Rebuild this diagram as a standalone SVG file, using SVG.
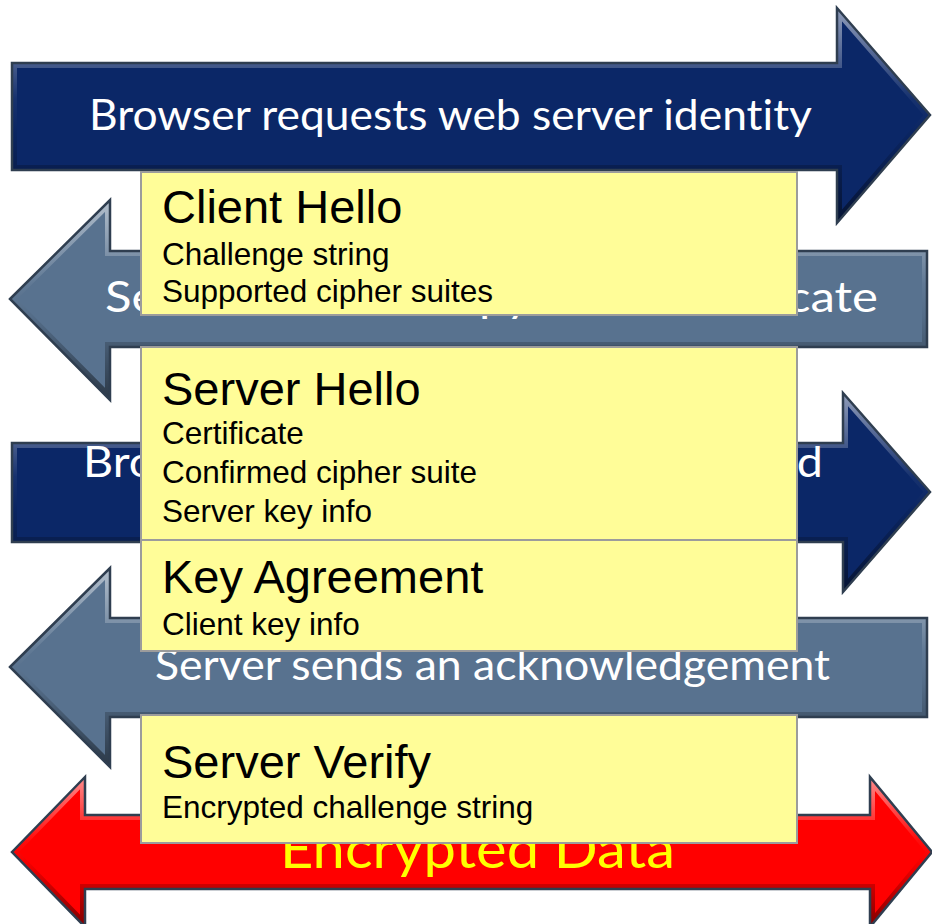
<svg xmlns="http://www.w3.org/2000/svg" xmlns:xlink="http://www.w3.org/1999/xlink" width="932" height="924" viewBox="0 0 932 924">
  <style>
    .outline { fill: none; stroke: #2F3E50; stroke-width: 2.5; stroke-linejoin: miter; }
    .bevel { fill: none; stroke: url(#bevelG); stroke-width: 10; }
    .navy { fill: #0B2767; }
    .slate { fill: #58728F; }
    .red { fill: #FF0000; }
    .atext { font-family: Lato, "Open Sans", sans-serif; font-size: 42px; fill: #FFFFFF; font-variant-ligatures: none; }
    .ytext { font-family: Lato, "Open Sans", sans-serif; font-size: 54px; fill: #FFFF00; font-variant-ligatures: none; }
    .box { fill: #FFFD98; stroke: #9C9C9C; stroke-width: 2; }
    .title { font-family: "Liberation Sans", Arial, sans-serif; font-size: 47px; fill: #000000; }
    .item { font-family: "Liberation Sans", Arial, sans-serif; font-size: 31.5px; fill: #000000; }
  </style>
  <defs>
    <linearGradient id="bevelG" x1="0" y1="0" x2="0" y2="1">
      <stop offset="0" stop-color="#FFFFFF" stop-opacity="0.55"/>
      <stop offset="0.42" stop-color="#FFFFFF" stop-opacity="0.05"/>
      <stop offset="0.58" stop-color="#000000" stop-opacity="0.05"/>
      <stop offset="1" stop-color="#000000" stop-opacity="0.5"/>
    </linearGradient>
    <polygon id="p1" points="12,63 837,63 837,8 930,115 837,223 837,170 12,170"/>
    <polygon id="p2" points="10,299 110,200 110,251 927,251 927,347 110,347 110,400"/>
    <polygon id="p3" points="12,443 843,443 843,393 930,492 843,592 843,542 12,542"/>
    <polygon id="p4" points="10,667 110,568 110,618 927,618 927,717 110,717 110,767"/>
    <polygon id="p5" points="12,852 85,777 85,815 870,815 870,777 932,852 870,927 870,889 85,889 85,927"/>
    <clipPath id="c1"><use xlink:href="#p1"/></clipPath>
    <clipPath id="c2"><use xlink:href="#p2"/></clipPath>
    <clipPath id="c3"><use xlink:href="#p3"/></clipPath>
    <clipPath id="c4"><use xlink:href="#p4"/></clipPath>
    <clipPath id="c5"><use xlink:href="#p5"/></clipPath>
  </defs>
  <rect width="932" height="924" fill="#FFFFFF"/>

  <g id="connectors">
    <g id="arrow1">
      <use xlink:href="#p1" class="navy"/>
      <use xlink:href="#p1" class="bevel" clip-path="url(#c1)"/>
      <use xlink:href="#p1" class="outline"/>
      <text class="atext" x="89" y="130" textLength="723" lengthAdjust="spacingAndGlyphs">Browser requests web server identity</text>
    </g>
    <g id="arrow2">
      <use xlink:href="#p2" class="slate"/>
      <use xlink:href="#p2" class="bevel" clip-path="url(#c2)"/>
      <use xlink:href="#p2" class="outline"/>
      <text class="atext" x="105" y="312" textLength="773" lengthAdjust="spacingAndGlyphs">Server sends a copy of its certificate</text>
    </g>
    <g id="arrow3">
      <use xlink:href="#p3" class="navy"/>
      <use xlink:href="#p3" class="bevel" clip-path="url(#c3)"/>
      <use xlink:href="#p3" class="outline"/>
      <text class="atext" x="83" y="477" textLength="740" lengthAdjust="spacingAndGlyphs">Browser checks certificate is trusted</text>
    </g>
    <g id="arrow4">
      <use xlink:href="#p4" class="slate"/>
      <use xlink:href="#p4" class="bevel" clip-path="url(#c4)"/>
      <use xlink:href="#p4" class="outline"/>
      <text class="atext" x="155" y="680" textLength="675" lengthAdjust="spacingAndGlyphs">Server sends an acknowledgement</text>
    </g>
    <g id="arrow5">
      <use xlink:href="#p5" class="red"/>
      <use xlink:href="#p5" class="bevel" clip-path="url(#c5)"/>
      <use xlink:href="#p5" class="outline"/>
      <text class="ytext" x="280" y="868" textLength="395" lengthAdjust="spacingAndGlyphs">Encrypted Data</text>
    </g>
  </g>

  <g id="client-hello">
    <rect class="box" x="141" y="172" width="656" height="143"/>
    <text class="title" x="162" y="223">Client Hello</text>
    <text class="item" x="162" y="265">Challenge string</text>
    <text class="item" x="162" y="302">Supported cipher suites</text>
  </g>
  <g id="server-hello">
    <rect class="box" x="141" y="347" width="656" height="193"/>
    <text class="title" x="162" y="405">Server Hello</text>
    <text class="item" x="162" y="444">Certificate</text>
    <text class="item" x="162" y="483">Confirmed cipher suite</text>
    <text class="item" x="162" y="522">Server key info</text>
  </g>
  <g id="key-agreement">
    <rect class="box" x="141" y="540" width="656" height="111"/>
    <text class="title" x="162" y="593">Key Agreement</text>
    <text class="item" x="162" y="635">Client key info</text>
  </g>
  <g id="server-verify">
    <rect class="box" x="141" y="715" width="656" height="128"/>
    <text class="title" x="162" y="778">Server Verify</text>
    <text class="item" x="162" y="818">Encrypted challenge string</text>
  </g>
</svg>
